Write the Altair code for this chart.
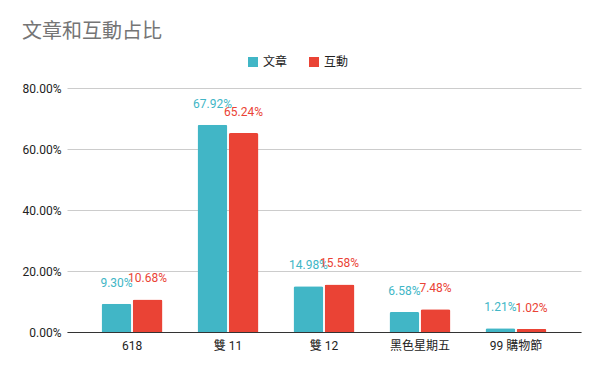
import altair as alt
import pandas as pd

categories = ["618", "雙 11", "雙 12", "黑色星期五", "99 購物節"]
series = ["文章", "互動"]
articles = [0.0930, 0.6792, 0.1498, 0.0658, 0.0121]
interactions = [0.1068, 0.6524, 0.1558, 0.0748, 0.0102]
colors = ["#41b6c6", "#ea4335"]

rows = []
for c, a, i in zip(categories, articles, interactions):
    rows.append({"cat": c, "series": series[0], "value": a})
    rows.append({"cat": c, "series": series[1], "value": i})
df = pd.DataFrame(rows)

FONT = "Roboto, 'Noto Sans CJK TC', sans-serif"

x = alt.X("cat:N", sort=categories, title=None,
          scale=alt.Scale(paddingInner=0.365, paddingOuter=0.36),
          axis=alt.Axis(labelAngle=0, ticks=False, domainColor="#333333",
                        labelColor="#222222", labelFontSize=12, labelPadding=8,
                        labelFont=FONT))
xo = alt.XOffset("series:N", sort=series, scale=alt.Scale(paddingInner=0.04))
color = alt.Color("series:N", sort=series,
                  scale=alt.Scale(domain=series, range=colors),
                  legend=alt.Legend(title=None, orient="none", direction="horizontal",
                                    legendX=180, legendY=-32, symbolType="square",
                                    symbolSize=100, labelFontSize=12, labelFont=FONT,
                                    labelColor="#222222", columnPadding=20,
                                    symbolStrokeWidth=0))
y = alt.Y("value:Q", title=None,
          scale=alt.Scale(domain=[0, 0.8], nice=False),
          axis=alt.Axis(format=".2%", values=[0, 0.2, 0.4, 0.6, 0.8], domain=False,
                        ticks=False, gridColor="#cccccc", labelColor="#222222",
                        labelFontSize=12, labelPadding=6, labelFont=FONT))

bars = alt.Chart(df).mark_bar(cornerRadiusTopLeft=2, cornerRadiusTopRight=2).encode(
    x=x, xOffset=xo, y=y, color=color)

labels = alt.Chart(df).mark_text(baseline="bottom", dy=-14, fontSize=12, font=FONT).encode(
    x=alt.X("cat:N", sort=categories),
    xOffset=alt.XOffset("series:N", sort=series),
    y=alt.Y("value:Q"),
    text=alt.Text("value:Q", format=".2%"),
    color=alt.Color("series:N", sort=series, legend=None))

chart = (bars + labels).properties(
    width=514, height=244,
    autosize=alt.AutoSizeParams(type="none"),
    padding={"left": 59, "top": 80, "right": 11, "bottom": 30},
    title=alt.Title("文章和互動占比", anchor="start", fontSize=20, font=FONT,
                    fontWeight="normal", color="#757575", dx=0, offset=14),
).configure_view(stroke=None)

chart.save("out.html", embed_options={"renderer": "svg", "actions": False})
